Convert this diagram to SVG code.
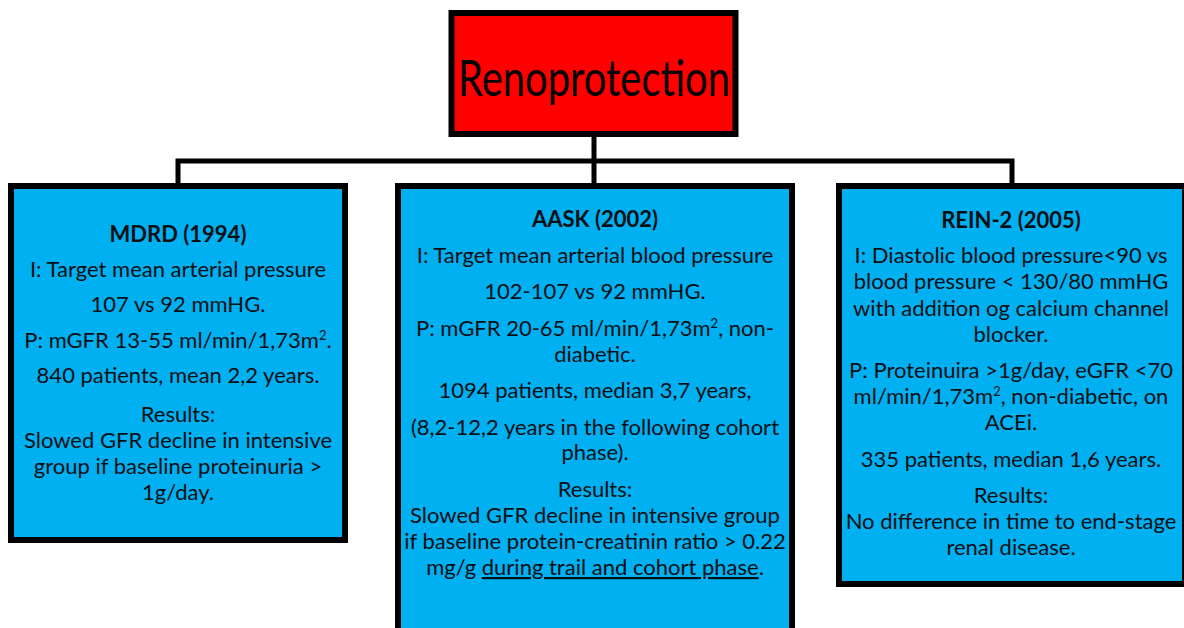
<svg xmlns="http://www.w3.org/2000/svg" width="1184" height="628" viewBox="0 0 1184 628">
<style>
.box{fill:#00b0f0;stroke:#000;stroke-width:6}
.root{fill:#ff0000;stroke:#000;stroke-width:6}
.con{fill:none;stroke:#000;stroke-width:5}
text{font-family:Lato,"Open Sans",sans-serif;font-size:22px;fill:#0a0f14;text-anchor:middle}
.b{font-weight:bold}
.t{font-size:50px;fill:#000}
.sup{font-size:13px}
</style>
<rect width="1184" height="628" fill="#fff"/>
<g id="connectors">
<path class="con" d="M594 137V183M178 183V161H1012V183"/>
</g>
<g id="root">
<rect class="root" x="451.5" y="13" width="284" height="121"/>
<text class="t" x="594" y="96" textLength="272" lengthAdjust="spacingAndGlyphs">Renoprotection</text>
</g>
<g id="mdrd">
<rect class="box" x="11" y="186" width="334" height="354"/>
<text class="b" x="178" y="242">MDRD (1994)</text>
<text x="178" y="277">I: Target mean arterial pressure</text>
<text x="178" y="312">107 vs 92 mmHG.</text>
<text x="178" y="348">P: mGFR 13-55 ml/min/1,73m<tspan class="sup" dy="-8">2</tspan><tspan dy="8">.</tspan></text>
<text x="178" y="383">840 patients, mean 2,2 years.</text>
<text x="178" y="422">Results:</text>
<text x="178" y="448">Slowed GFR decline in intensive</text>
<text x="178" y="474">group if baseline proteinuria &gt;</text>
<text x="178" y="500">1g/day.</text>
</g>
<g id="aask">
<rect class="box" x="398" y="186" width="394" height="446"/>
<text class="b" x="595" y="227">AASK (2002)</text>
<text x="595" y="263">I: Target mean arterial blood pressure</text>
<text x="595" y="299">102-107 vs 92 mmHG.</text>
<text x="595" y="336">P: mGFR 20-65 ml/min/1,73m<tspan class="sup" dy="-8">2</tspan><tspan dy="8">, non-</tspan></text>
<text x="595" y="362">diabetic.</text>
<text x="595" y="398">1094 patients, median 3,7 years,</text>
<text x="595" y="435">(8,2-12,2 years in the following cohort</text>
<text x="595" y="460">phase).</text>
<text x="595" y="497">Results:</text>
<text x="595" y="523">Slowed GFR decline in intensive group</text>
<text x="595" y="549">if baseline protein-creatinin ratio &gt; 0.22</text>
<text x="595" y="575">mg/g <tspan text-decoration="underline">during trail and cohort phase</tspan>.</text>
</g>
<g id="rein2">
<rect class="box" x="839" y="186" width="346" height="398"/>
<text class="b" x="1011" y="228">REIN-2 (2005)</text>
<text x="1011" y="263">I: Diastolic blood pressure&lt;90 vs</text>
<text x="1011" y="289">blood pressure &lt; 130/80 mmHG</text>
<text x="1011" y="316">with addition og calcium channel</text>
<text x="1011" y="342">blocker.</text>
<text x="1011" y="378">P: Proteinuira &gt;1g/day, eGFR &lt;70</text>
<text x="1011" y="404">ml/min/1,73m<tspan class="sup" dy="-8">2</tspan><tspan dy="8">, non-diabetic, on</tspan></text>
<text x="1011" y="430">ACEi.</text>
<text x="1011" y="467">335 patients, median 1,6 years.</text>
<text x="1011" y="503">Results:</text>
<text x="1011" y="529">No difference in time to end-stage</text>
<text x="1011" y="555">renal disease.</text>
</g>
</svg>
